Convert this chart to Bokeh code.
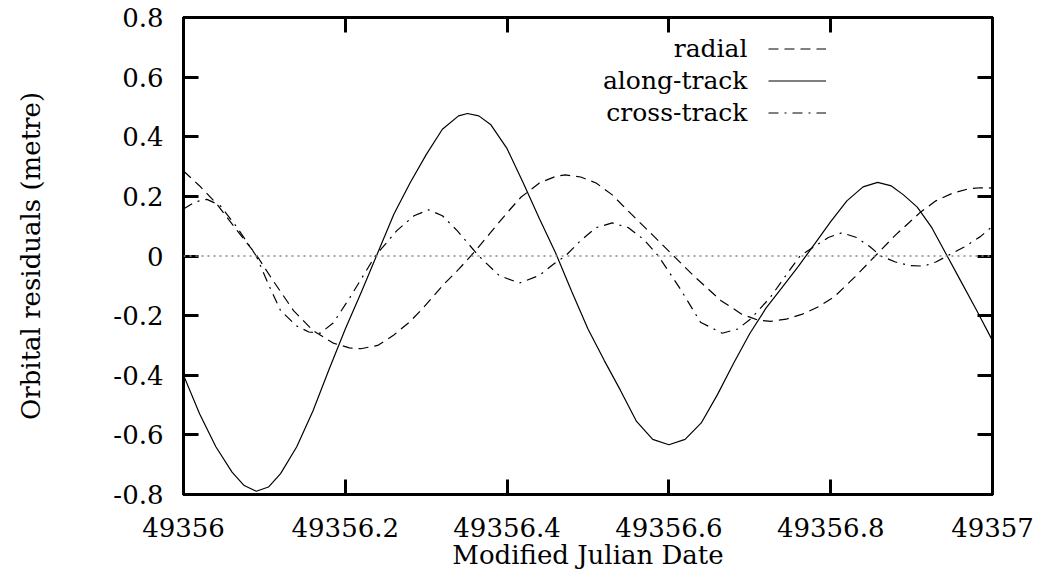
from bokeh.plotting import figure
from bokeh.models import (LinearAxis, FixedTicker, Span, Legend, LegendItem, Label, Range1d)
from bokeh.embed import file_html
from bokeh.resources import INLINE

FONT = "DejaVu Serif"

# ---- data ----
along_x = [49356.000, 49356.020, 49356.040, 49356.060, 49356.075, 49356.090, 49356.105,
           49356.120, 49356.140, 49356.160, 49356.180, 49356.200, 49356.220, 49356.240,
           49356.260, 49356.280, 49356.300, 49356.320, 49356.340, 49356.351, 49356.365,
           49356.380, 49356.400, 49356.420, 49356.440, 49356.460, 49356.480, 49356.500,
           49356.520, 49356.540, 49356.560, 49356.580, 49356.600, 49356.620, 49356.640,
           49356.660, 49356.680, 49356.700, 49356.720, 49356.740, 49356.760, 49356.780,
           49356.800, 49356.820, 49356.840, 49356.858, 49356.875, 49356.890, 49356.907,
           49356.925, 49356.944, 49356.960, 49356.980, 49357.000]
along_y = [-0.400, -0.530, -0.640, -0.725, -0.770, -0.789, -0.775,
           -0.730, -0.640, -0.520, -0.380, -0.245, -0.120, 0.010,
           0.140, 0.245, 0.340, 0.425, 0.470, 0.478, 0.470,
           0.440, 0.360, 0.245, 0.125, 0.010, -0.120, -0.245,
           -0.350, -0.450, -0.555, -0.615, -0.633, -0.615, -0.560,
           -0.465, -0.360, -0.260, -0.175, -0.105, -0.035, 0.040,
           0.115, 0.185, 0.232, 0.247, 0.235, 0.205, 0.164,
           0.095, 0.000, -0.080, -0.180, -0.284]

radial_x = [49356.000, 49356.020, 49356.041, 49356.065, 49356.091, 49356.110, 49356.136,
            49356.160, 49356.185, 49356.205, 49356.219, 49356.240, 49356.260, 49356.280,
            49356.297, 49356.320, 49356.340, 49356.360, 49356.380, 49356.400, 49356.417,
            49356.440, 49356.460, 49356.472, 49356.491, 49356.510, 49356.530, 49356.553,
            49356.580, 49356.606, 49356.630, 49356.664, 49356.690, 49356.710, 49356.726,
            49356.745, 49356.765, 49356.785, 49356.804, 49356.830, 49356.855, 49356.880,
            49356.911, 49356.930, 49356.950, 49356.970, 49356.985, 49357.000]
radial_y = [0.285, 0.235, 0.175, 0.090, 0.000, -0.080, -0.183,
            -0.250, -0.292, -0.308, -0.311, -0.300, -0.265, -0.220,
            -0.172, -0.100, -0.045, 0.015, 0.080, 0.145, 0.197,
            0.245, 0.267, 0.272, 0.265, 0.245, 0.205, 0.142,
            0.070, 0.000, -0.065, -0.149, -0.195, -0.215, -0.219,
            -0.212, -0.195, -0.170, -0.138, -0.070, 0.000, 0.070,
            0.147, 0.185, 0.210, 0.225, 0.229, 0.228]

cross_x = [49356.000, 49356.015, 49356.029, 49356.045, 49356.066, 49356.090, 49356.105,
           49356.120, 49356.140, 49356.155, 49356.169, 49356.185, 49356.206, 49356.237,
           49356.264, 49356.285, 49356.303, 49356.320, 49356.338, 49356.365, 49356.390,
           49356.415, 49356.440, 49356.458, 49356.472, 49356.491, 49356.510, 49356.530,
           49356.550, 49356.569, 49356.587, 49356.614, 49356.639, 49356.666, 49356.685,
           49356.701, 49356.725, 49356.746, 49356.762, 49356.779, 49356.797, 49356.814,
           49356.832, 49356.849, 49356.862, 49356.880, 49356.898, 49356.915, 49356.930,
           49356.944, 49356.965, 49356.985, 49357.000]
cross_y = [0.158, 0.182, 0.190, 0.170, 0.097, 0.000, -0.095,
           -0.183, -0.235, -0.255, -0.259, -0.225, -0.138, 0.000,
           0.086, 0.135, 0.155, 0.135, 0.086, 0.000, -0.065,
           -0.091, -0.065, -0.026, 0.000, 0.052, 0.095, 0.111,
           0.095, 0.055, 0.000, -0.110, -0.222, -0.259, -0.245,
           -0.211, -0.140, -0.060, 0.000, 0.030, 0.062, 0.078,
           0.062, 0.030, 0.000, -0.020, -0.032, -0.034, -0.020,
           0.000, 0.030, 0.065, 0.100]

series_names = ["radial", "along-track", "cross-track"]

x_ticks = [49356, 49356.2, 49356.4, 49356.6, 49356.8, 49357]
x_tick_labels = ["49356", "49356.2", "49356.4", "49356.6", "49356.8", "49357"]
y_ticks = [-0.8, -0.6, -0.4, -0.2, 0, 0.2, 0.4, 0.6, 0.8]
y_tick_labels = ["-0.8", "-0.6", "-0.4", "-0.2", "0", "0.2", "0.4", "0.6", "0.8"]

# ---- figure ----
p = figure(width=1038, height=577, output_backend="svg", toolbar_location=None,
           x_range=Range1d(49356, 49357), y_range=Range1d(-0.8, 0.8),
           min_border_left=183, min_border_right=46, min_border_top=17, min_border_bottom=83,
           x_axis_label="Modified Julian Date", y_axis_label="Orbital residuals (metre)")
p.xgrid.visible = False
p.ygrid.visible = False
p.outline_line_color = "black"
p.outline_line_width = 3
p.background_fill_color = "white"
p.border_fill_color = "white"

def style_axis(ax, ticks, labels, show_labels=True):
    ax.ticker = FixedTicker(ticks=ticks)
    ax.major_label_overrides = {t: l for t, l in zip(ticks, labels)}
    ax.minor_tick_line_color = None
    ax.major_tick_in = 15
    ax.major_tick_out = 0
    ax.major_tick_line_width = 3
    ax.major_tick_line_color = "black"
    ax.axis_line_width = 3
    ax.axis_line_color = "black"
    ax.major_label_text_font = FONT
    ax.axis_label_text_font = FONT
    ax.axis_label_text_font_style = "normal"
    ax.axis_label_text_font_size = "26px"
    ax.axis_label_text_color = "black"
    if show_labels:
        ax.major_label_text_font_size = "26px"
        ax.major_label_text_color = "black"
    else:
        ax.major_label_text_font_size = "1px"
        ax.major_label_text_color = None
        ax.major_label_standoff = 0

style_axis(p.xaxis[0], x_ticks, x_tick_labels)
p.xaxis[0].major_label_standoff = 23
p.xaxis[0].axis_label_standoff = 0
style_axis(p.yaxis[0], y_ticks, y_tick_labels)
p.yaxis[0].major_label_standoff = 20
p.yaxis[0].axis_label_standoff = 64

top_ax = LinearAxis()
style_axis(top_ax, x_ticks, x_tick_labels, show_labels=False)
p.add_layout(top_ax, "above")
right_ax = LinearAxis()
style_axis(right_ax, y_ticks, y_tick_labels, show_labels=False)
p.add_layout(right_ax, "right")

# zero axis
p.add_layout(Span(location=0, dimension="width", line_color="#888888",
                  line_width=1.5, line_dash="2 4"))

r_rad = p.line(radial_x, radial_y, line_color="black", line_width=1.2, line_dash="10 6")
r_along = p.line(along_x, along_y, line_color="black", line_width=1.2)
r_cross = p.line(cross_x, cross_y, line_color="black", line_width=1.2, line_dash="10 6 2 6")

legend = Legend(items=[LegendItem(label=" ", renderers=[r]) for r in (r_rad, r_along, r_cross)],
                location=(585, 367), glyph_width=58, glyph_height=29, label_height=29,
                label_width=0, label_standoff=0, padding=0, spacing=3, margin=0,
                background_fill_alpha=0, border_line_alpha=0,
                label_text_font_size="1px", label_text_color=None)
p.add_layout(legend)

for i, name in enumerate(series_names):
    p.add_layout(Label(x=564, y=446 - 32 * i, x_units="screen", y_units="screen",
                       text=name, text_align="right", text_baseline="middle",
                       text_font=FONT, text_font_size="25px", text_color="black"))

open("out.html", "w").write(file_html(p, INLINE))
